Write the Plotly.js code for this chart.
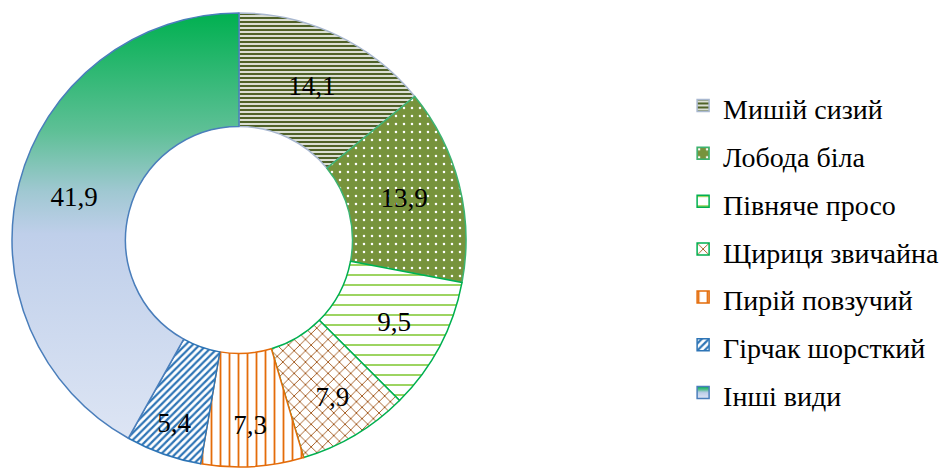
<!DOCTYPE html>
<html><head><meta charset="utf-8">
<script src="https://cdn.plot.ly/plotly-3.0.1.min.js"></script>
<style>body{margin:0;background:#fff}</style>
</head><body><div id="chart" style="width:948px;height:468px"></div>
<script>
const categories = ["Мишій сизий","Лобода біла","Півняче просо","Щириця звичайна","Пирій повзучий","Гірчак шорсткий","Інші види"];
const values = [14.1, 13.9, 9.5, 7.9, 7.3, 5.4, 41.9];
const valueLabels = ["14,1","13,9","9,5","7,9","7,3","5,4","41,9"];

const fillColors = ["#ffffff","#77933c","#ffffff","#ffffff","#ffffff","#ffffff","#7fc4b0"];
const patShapes = ["-",".","-","x","|","/",""];
const patFg = ["#4f6228","#ffffff","#92d050","#984807","#e46c0a","#2e75b6","#7fc4b0"];
const patSize = [4,8,10,8,9,5,8];
const patSolid = [0.6,0.08,0.18,0.2,0.2,0.45,0.3];
const lineColors = ["#a9b8d0","#3cb371","#00b050","#00b050","#e46c0a","#2e75b6","#4a7ebb"];

const serif = "'Liberation Serif', 'Times New Roman', serif";

const trace = {
  type: "pie",
  hole: 0.5,
  sort: false,
  direction: "clockwise",
  rotation: 0,
  labels: categories.map(c => '<span style="font-size:28px">' + c + '</span>'),
  values: values,
  text: valueLabels,
  textinfo: "text",
  textposition: "inside",
  insidetextorientation: "horizontal",
  textfont: {family: serif, size: 27, color: "#000000"},
  marker: {
    colors: fillColors,
    line: {color: lineColors, width: 1.5},
    pattern: {shape: patShapes, fgcolor: patFg, bgcolor: fillColors, size: patSize, solidity: patSolid, fillmode: "replace"}
  },
  domain: {x: [0, 454/936], y: [0, 1]},
  hoverinfo: "none"
};

const layout = {
  width: 948, height: 468,
  margin: {l: 12, r: 0, t: 13, b: 1},
  paper_bgcolor: "#ffffff",
  plot_bgcolor: "#ffffff",
  font: {family: serif},
  showlegend: true,
  legend: {
    x: 0.717, xanchor: "left",
    y: 0.86, yanchor: "top",
    font: {family: serif, size: 34.5, color: "#000000"},
    bgcolor: "rgba(0,0,0,0)"
  }
};

Plotly.newPlot("chart", [trace], layout, {displayModeBar: false, staticPlot: true}).then(gd => {
  const svg = gd.querySelector("svg.main-svg");
  const ns = "http://www.w3.org/2000/svg";
  let defs = svg.querySelector("defs");
  if (!defs) { defs = document.createElementNS(ns, "defs"); svg.insertBefore(defs, svg.firstChild); }
  const grad = document.createElementNS(ns, "linearGradient");
  grad.setAttribute("id", "othersGrad");
  grad.setAttribute("x1", "0"); grad.setAttribute("y1", "0");
  grad.setAttribute("x2", "0"); grad.setAttribute("y2", "1");
  [["0", "#00b050"], ["0.28", "#5fc097"], ["0.42", "#a0c8d2"], ["0.52", "#bfcfea"], ["1", "#dde5f4"]].forEach(([o, c]) => {
    const s = document.createElementNS(ns, "stop");
    s.setAttribute("offset", o); s.setAttribute("stop-color", c);
    grad.appendChild(s);
  });
  defs.appendChild(grad);
  const slices = gd.querySelectorAll("g.slice path.surface");
  if (slices.length === values.length) slices[values.length - 1].style.setProperty("fill", "url(#othersGrad)");
  const lp = gd.querySelectorAll(".legend .traces");
  if (lp.length === values.length) {
    const p = lp[values.length - 1].querySelector(".legendpoints path");
    if (p) p.style.setProperty("fill", "url(#othersGrad)");
  }
});
</script>
</body></html>
